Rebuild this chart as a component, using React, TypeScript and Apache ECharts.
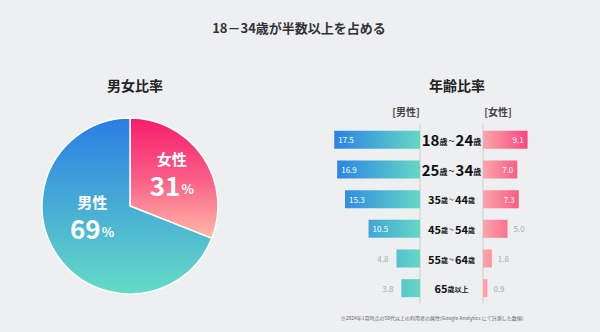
import React, { useEffect, useRef } from "react";
import * as echarts from "echarts";

const mainTitle = "18－34歳が半数以上を占める";
const pieTitle = "男女比率";
const barTitle = "年齢比率";
const maleHeader = "[男性]";
const femaleHeader = "[女性]";
const footnote = "※2024年1月時点の50代以上の利用者の属性(Google Analytics にて計測した数値)";

const genderNames = ["女性", "男性"];
const genderValues = [31, 69];

const ageLabels = ["18歳~24歳", "25歳~34歳", "35歳~44歳", "45歳~54歳", "55歳~64歳", "65歳以上"];
const maleValues = [17.5, 16.9, 15.3, 10.5, 4.8, 3.8];
const femaleValues = [9.1, 7.0, 7.3, 5.0, 1.8, 0.9];

const FONT = "'Noto Sans CJK JP', 'Noto Sans', sans-serif";
const INSIDE_MIN = 6;

function ageFormatter(value: string, index: number) {
  const big = index < 2;
  return value
    .split(/(\d+|~)/)
    .filter((p) => p.length > 0)
    .map((p) => {
      if (/\d/.test(p)) return `{${big ? "N" : "n"}|${p}}`;
      if (p === "~") return `{${big ? "T" : "t"}|${p}}`;
      return `{${big ? "S" : "s"}|${p}}`;
    })
    .join("");
}

export default function App() {
  const ref = useRef<HTMLDivElement>(null);
  useEffect(() => {
    if (!ref.current) return;
    const chart = echarts.init(ref.current, null, { renderer: "svg" });

    const maleGrad = {
      type: "linear",
      x: 334,
      y: 0,
      x2: 420,
      y2: 0,
      global: true,
      colorStops: [
        { offset: 0, color: "#2a82e4" },
        { offset: 1, color: "#64d8c4" },
      ],
    };
    const femaleGrad = {
      type: "linear",
      x: 483,
      y: 0,
      x2: 529,
      y2: 0,
      global: true,
      colorStops: [
        { offset: 0, color: "#faa6aa" },
        { offset: 1, color: "#f8447c" },
      ],
    };
    const pieColors = [
      new echarts.graphic.LinearGradient(0, 0, 0, 1, [
        { offset: 0, color: "#f61c6b" },
        { offset: 0.5, color: "#fa5d86" },
        { offset: 1, color: "#ffbaa8" },
      ]),
      new echarts.graphic.LinearGradient(0, 0, 0, 1, [
        { offset: 0, color: "#2a7de4" },
        { offset: 1, color: "#64dcc6" },
      ]),
    ];
    const pieShift = [
      [3, -6],
      [1, -16],
    ];

    const grayLabel = "#a9abad";
    const dark = "#111";

    chart.setOption({
      animation: false,
      backgroundColor: "#edeff1",
      textStyle: { fontFamily: FONT },
      title: [
        { text: mainTitle, left: 294, top: 16, textAlign: "center", textStyle: { fontSize: 13, fontWeight: "bold", color: "#333", fontFamily: FONT } },
        { text: pieTitle, left: 130, top: 73, textAlign: "center", textStyle: { fontSize: 14, fontWeight: "bold", color: "#222", fontFamily: FONT } },
        { text: barTitle, left: 452, top: 73, textAlign: "center", textStyle: { fontSize: 14, fontWeight: "bold", color: "#222", fontFamily: FONT } },
      ],
      graphic: [
        { type: "text", x: 406, y: 111, style: { text: maleHeader, fontSize: 10, fill: "#444", align: "center", verticalAlign: "middle", fontFamily: FONT, fontWeight: "bold" } },
        { type: "text", x: 498, y: 111, style: { text: femaleHeader, fontSize: 10, fill: "#444", align: "center", verticalAlign: "middle", fontFamily: FONT, fontWeight: "bold" } },
        { type: "text", x: 432, y: 317, style: { text: footnote, fontSize: 5, fill: "#666", align: "center", verticalAlign: "middle", fontFamily: FONT } },
      ],
      grid: [
        { left: 322, width: 98, top: 125, height: 178 },
        { left: 483, width: 98, top: 125, height: 178 },
      ],
      xAxis: [
        { type: "value", gridIndex: 0, min: 0, max: 20, inverse: true, show: false },
        { type: "value", gridIndex: 1, min: 0, max: 20, show: false },
      ],
      yAxis: [
        {
          type: "category",
          gridIndex: 0,
          data: ageLabels,
          inverse: true,
          position: "right",
          axisLine: { show: true, lineStyle: { color: "#d6d8da", width: 1.5 } },
          axisTick: { show: false },
          axisLabel: {
            align: "center",
            margin: 31.5,
            formatter: ageFormatter,
            rich: {
              N: { fontSize: 15, fontWeight: "bold", color: dark, fontFamily: FONT },
              S: { fontSize: 8, fontWeight: "bold", color: dark, fontFamily: FONT, padding: [3, 0, 0, 0] },
              T: { fontSize: 11, color: dark, fontFamily: FONT, padding: [1, 1, 0, 1] },
              n: { fontSize: 11, fontWeight: "bold", color: dark, fontFamily: FONT },
              s: { fontSize: 7, fontWeight: "bold", color: dark, fontFamily: FONT, padding: [2, 0, 0, 0] },
              t: { fontSize: 9, color: dark, fontFamily: FONT, padding: [1, 1, 0, 1] },
            },
          },
        },
        {
          type: "category",
          gridIndex: 1,
          data: ageLabels,
          inverse: true,
          position: "left",
          axisLine: { show: true, lineStyle: { color: "#d6d8da", width: 1.5 } },
          axisTick: { show: false },
          axisLabel: { show: false },
        },
      ],
      series: [
        {
          type: "pie",
          center: [130, 206],
          radius: 88,
          startAngle: 90,
          clockwise: true,
          itemStyle: { borderColor: "#ffffff", borderWidth: 1.5 },
          label: {
            show: true,
            position: "inside",
            formatter: (p: any) => `{name|${p.name}}\n{val|${p.value}}{pct|%}`,
            rich: {
              name: { fontSize: 15, fontWeight: "bold", color: "#fff", fontFamily: FONT, lineHeight: 22, align: "center" },
              val: { fontSize: 26, fontWeight: "bold", color: "#fff", fontFamily: FONT, lineHeight: 30 },
              pct: { fontSize: 13, fontWeight: "bold", color: "#fff", fontFamily: FONT, lineHeight: 30, padding: [8, 0, 0, 1] },
            },
          },
          labelLayout: (params: any) => ({ dx: pieShift[params.dataIndex][0], dy: pieShift[params.dataIndex][1] }),
          labelLine: { show: false },
          emphasis: { disabled: true },
          data: genderNames.map((n, i) => ({ name: n, value: genderValues[i], itemStyle: { color: pieColors[i] } })),
        },
        {
          type: "bar",
          xAxisIndex: 0,
          yAxisIndex: 0,
          barWidth: 18,
          itemStyle: { color: maleGrad },
          data: maleValues.map((v) => ({
            value: v,
            label: v >= INSIDE_MIN
              ? { show: true, position: "insideLeft", distance: 4, color: "#fff", fontSize: 8 }
              : { show: true, position: "left", distance: 8, color: grayLabel, fontSize: 8 },
          })),
          label: { show: true, fontFamily: FONT, formatter: (p: any) => Number(p.value).toFixed(1) },
          emphasis: { disabled: true },
        },
        {
          type: "bar",
          xAxisIndex: 1,
          yAxisIndex: 1,
          barWidth: 18,
          itemStyle: { color: femaleGrad },
          data: femaleValues.map((v) => ({
            value: v,
            label: v >= INSIDE_MIN
              ? { show: true, position: "insideRight", distance: 4, color: "#fff", fontSize: 8 }
              : { show: true, position: "right", distance: 6, color: grayLabel, fontSize: 8 },
          })),
          label: { show: true, fontFamily: FONT, formatter: (p: any) => Number(p.value).toFixed(1) },
          emphasis: { disabled: true },
        },
      ],
    } as any);
    return () => chart.dispose();
  }, []);
  return <div ref={ref} style={{ position: "absolute", left: 0, top: 0, width: 600, height: 332 }} />;
}
